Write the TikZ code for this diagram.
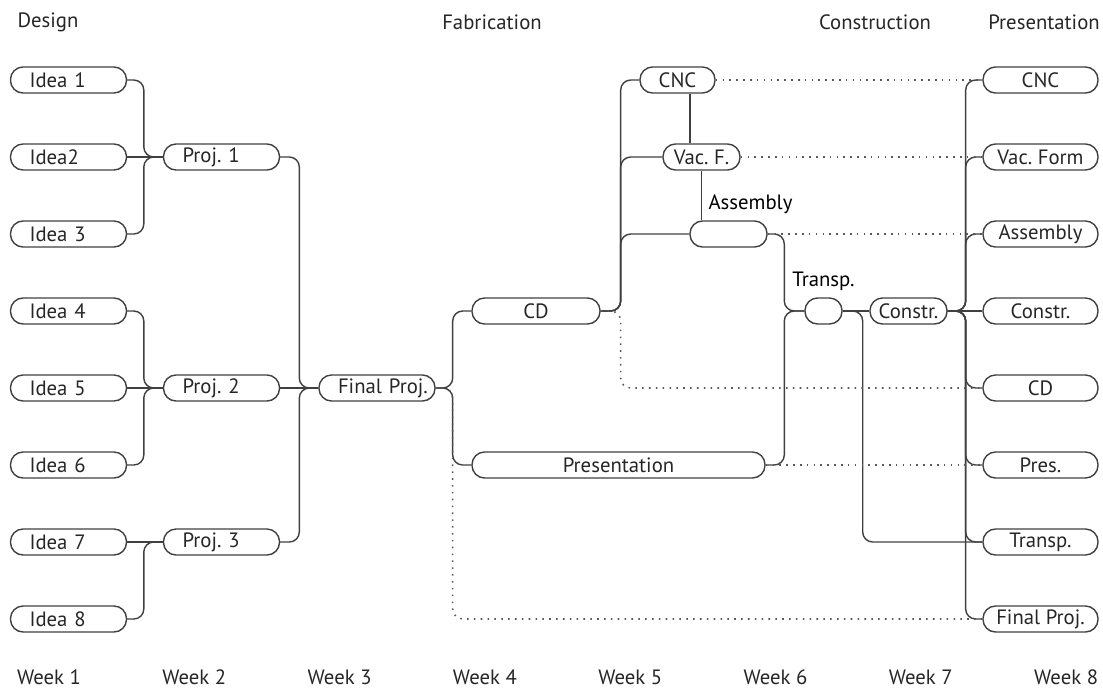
\documentclass[tikz,border=0pt]{standalone}
\usepackage{fontspec}
\setmainfont{PT Sans}
\usetikzlibrary{calc,positioning}

\begin{document}
\begin{tikzpicture}[x=0.02cm, y=-0.02cm,
    font=\fontsize{11.8}{14}\selectfont\frenchspacing,
    base/.style={draw=black!75, line width=0.8pt, rounded corners=0.25cm, minimum height=0.52cm, inner ysep=0pt, text=black!85},
    lft/.style={base, text width=1.56cm, inner xsep=0.38cm, align=left},
    ctr/.style={base, minimum width=#1, inner xsep=0pt, align=center},
    norm/.style={draw=black!75, line width=0.8pt, rounded corners=0.2cm},
    dots/.style={draw=black!65, line width=0.9pt, dash pattern=on 0.9pt off 3pt, rounded corners=0.2cm},
    head/.style={text=black!85}]

\useasboundingbox (0,0) rectangle (1103,694);

\foreach \i/\t in {1/Idea 1, 2/Idea2, 3/Idea 3, 4/Idea 4, 5/Idea 5, 6/Idea 6, 7/Idea 7, 8/Idea 8}
  \node [lft] (idea\i) at (68.5, {80+77*(\i-1)}) {\t};
\node [lft] (proj1) at (221.5,157) {Proj.~1};
\node [lft] (proj2) at (221.5,388) {Proj.~2};
\node [lft] (proj3) at (221.5,542) {Proj.~3};
\node [lft] (final) at (377,388) {Final~Proj.};
\node [ctr=2.56cm] (cd) at (536,311) {CD};
\node [ctr=5.86cm] (pres) at (618.5,465) {Presentation};
\node [ctr=1.5cm] (cnc) at (677.5,80) {CNC};
\node [ctr=1.54cm] (vac) at (701.5,157) {Vac. F.};
\node [ctr=1.54cm, label={[xshift=0.44cm]above:Assembly}] (asm) at (728.5,234) {};
\node [ctr=0.74cm, label=above:Transp.] (tra) at (823.5,311) {};
\node [ctr=1.54cm] (con) at (908.5,311) {Constr.};
\node [ctr=2.3cm] (cnc8) at (1040.5,80) {CNC};
\node [ctr=2.3cm] (vac8) at (1040.5,157) {Vac. Form};
\node [ctr=2.3cm] (asm8) at (1040.5,234) {Assembly};
\node [ctr=2.3cm] (con8) at (1040.5,311) {Constr.};
\node [ctr=2.3cm] (cd8) at (1040.5,388) {CD};
\node [ctr=2.3cm] (pres8) at (1040.5,465) {Pres.};
\node [ctr=2.3cm] (tra8) at (1040.5,542) {Transp.};
\node [ctr=2.3cm] (fin8) at (1040.5,619) {Final Proj.};

\node [head] (design) at (48,22) {Design};
\node [head] (fabric) at (492,22) {Fabrication};
\node [head] (constr) at (875,22) {Construction};
\node [head] (present) at (1044,22) {Presentation};
\foreach \w in {1,...,8}
  \node [head] (week\w) at ({49+145.3*(\w-1)},677) {Week \w};

\foreach \i/\p in {1/1,3/1,4/2,6/2,8/3}
  \draw [norm] (idea\i.east) -| ($(proj\p.west)+(-19,0)$) -- (proj\p.west);
\draw [norm] (idea2) -- (proj1);
\draw [norm] (idea5) -- (proj2);
\draw [norm] (idea7) -- (proj3);
\foreach \p in {1,3}
  \draw [norm] (proj\p.east) -| ($(final.west)+(-19,0)$) -- (final.west);
\draw [norm] (proj2) -- (final);
\draw [norm] (final.east) -- ++(17,0) |- (cd.west);
\draw [norm] (final.east) -- ++(17,0) |- (pres.west);
\draw [norm] (cd.east) -- ++(20,0) |- (cnc.west);
\draw [norm] (cd.east) -- ++(20,0) |- (vac.west);
\draw [norm] (cd.east) -- ++(20,0) |- (asm.west);
\draw [norm] ([xshift=0.25cm]cnc.south) -- ([xshift=0.25cm]cnc.south |- vac.north);
\draw [norm] (vac.south) -- (vac.south |- asm.north);
\draw [norm] (asm.east) -| ($(tra.west)+(-20,0)$) -- (tra.west);
\draw [norm] (pres.east) -| ($(tra.west)+(-20,0)$) -- (tra.west);
\draw [norm] (tra) -- (con);
\draw [norm] (tra.east) -- ++(20,0) |- (tra8.west);
\draw [norm] (con) -- (con8);
\foreach \n in {cnc8,vac8,asm8,cd8,pres8,tra8,fin8}
  \draw [norm] (con.east) -- ++(18,0) |- (\n.west);

\draw [dots] (cnc) -- (cnc8);
\draw [dots] (vac) -- (vac8);
\draw [dots] (asm) -- (asm8);
\draw [dots] (pres) -- (pres8);
\draw [dots] (cd.east) -- ++(20,0) |- (cd8.west);
\draw [dots] (final.east) -- ++(17,0) |- (fin8.west);

\end{tikzpicture}
\end{document}
